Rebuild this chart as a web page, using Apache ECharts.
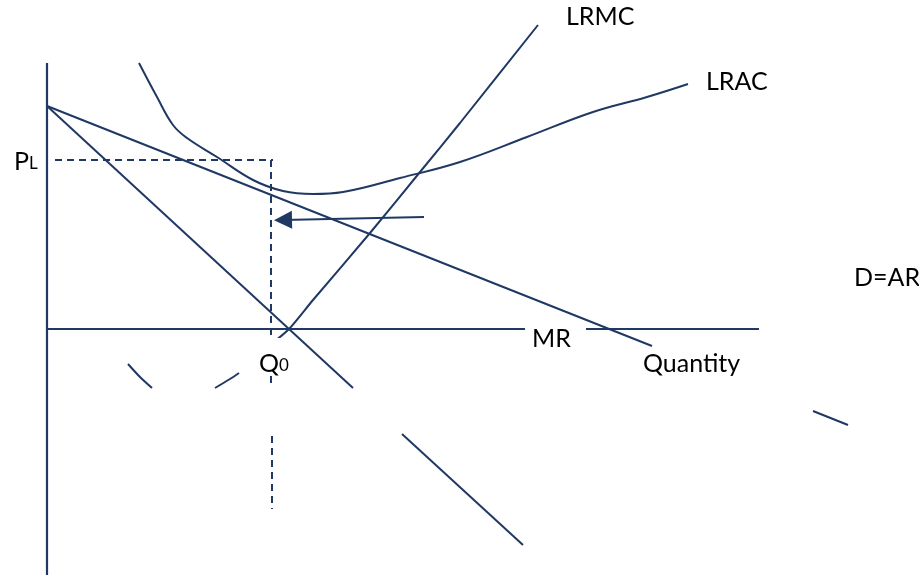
<!DOCTYPE html>
<html>
<head>
<meta charset="utf-8">
<script src="https://cdn.jsdelivr.net/npm/echarts@6/dist/echarts.min.js"></script>
<style>html,body{margin:0;padding:0;background:#fff;}#c{width:919px;height:575px;}</style>
</head>
<body>
<div id="c"></div>
<script>
// Diagram coordinates: q = quantity (right), p = price (up); origin at axis crossing
const priceAxis = [[0, 266], [0, -246]];
const quantityAxisA = [[0, 0], [478, 0]];
const quantityAxisB = [[539, 0], [712, 0]];
const demandAR = [[0, 223], [605, -17]];
const demandARFragment = [[766, -82], [801, -96]];
const marginalRevenue = [[0, 223], [306, -59]];
const marginalRevenueFragment = [[355, -105], [476, -216]];
const lrmc = [[223, -16], [242, 0], [266, 29], [323, 96], [373, 157], [413, 206], [491, 304]];
const lrac = [[92, 266], [110, 232], [126, 204], [140, 191], [170, 172], [206, 149], [236, 138], [266, 135], [296, 137], [353, 151], [413, 167], [480, 192], [546, 217], [600, 232], [641, 245]];
const hiddenCurveLeft = [[81, -35], [93, -48], [105, -59]];
const hiddenCurveRight = [[168, -59], [183, -50], [192, -44]];
const priceLDash = [[8, 169], [226, 169]];
const q0DashUpper = [[224, 169], [224, -59]];
const q0DashLower = [[225, -107], [225, -180]];
const shiftArrow = [[377, 112], [236, 109]];

const C = '#203864';
const FONT = 'Lato';
function seg(data, w, dashed, smooth) {
  return {
    type: 'line', data: data, symbol: 'none', silent: true, animation: false,
    smooth: smooth || false,
    lineStyle: { color: C, width: w, type: dashed ? [7, 5] : 'solid' }
  };
}
const chart = echarts.init(document.getElementById('c'));
chart.setOption({
  backgroundColor: '#fff',
  animation: false,
  grid: { left: 0, right: 0, top: 0, bottom: 0 },
  xAxis: { type: 'value', min: -47, max: 872, show: false },
  yAxis: { type: 'value', min: -246, max: 329, show: false },
  series: [
    seg(priceAxis, 2.2),
    seg(quantityAxisA, 2),
    seg(quantityAxisB, 2),
    seg(demandAR, 2),
    seg(demandARFragment, 2),
    seg(marginalRevenue, 2),
    seg(marginalRevenueFragment, 2),
    seg(lrmc, 2, false, 0.25),
    seg(lrac, 2, false, 0.4),
    seg(hiddenCurveLeft, 2, false, 0.3),
    seg(hiddenCurveRight, 2, false, 0.3),
    seg(priceLDash, 2, true),
    seg(q0DashUpper, 2, true),
    seg(q0DashLower, 2, true),
    {
      type: 'lines', coordinateSystem: 'cartesian2d', silent: true, animation: false,
      symbol: ['none', 'triangle'], symbolSize: 18,
      lineStyle: { color: C, width: 2, opacity: 1 },
      data: [{ coords: shiftArrow }]
    }
  ],
  graphic: [
    { type: 'text', left: 566, top: 4, style: { text: 'LRMC', font: '25px ' + FONT, fill: '#000' } },
    { type: 'text', left: 706, top: 69, style: { text: 'LRAC', font: '25px ' + FONT, fill: '#000' } },
    { type: 'text', left: 854, top: 265, style: { text: 'D=AR', font: '25px ' + FONT, fill: '#000' } },
    { type: 'text', left: 532, top: 326, style: { text: 'MR', font: '25px ' + FONT, fill: '#000' } },
    { type: 'text', left: 643, top: 351, style: { text: 'Quantity', font: '25px ' + FONT, fill: '#000' } },
    { type: 'text', left: 14, top: 149, style: {
        text: '{a|P}{b|L}', fill: '#000',
        rich: { a: { fontSize: 25, fontFamily: FONT, verticalAlign: 'bottom' }, b: { fontSize: 17, fontFamily: FONT, verticalAlign: 'bottom', padding: [0, 0, 2, 0] } }
      } },
    { type: 'rect', shape: { x: 258, y: 338, width: 30, height: 35 }, style: { fill: '#fff' }, z: 10 },
    { type: 'text', left: 259, top: 351, z: 11, style: {
        text: '{a|Q}{b|0}', fill: '#000',
        rich: { a: { fontSize: 25, fontFamily: FONT, verticalAlign: 'bottom' }, b: { fontSize: 17, fontFamily: FONT, verticalAlign: 'bottom', padding: [0, 0, 2, 0] } }
      } }
  ]
});
</script>
</body>
</html>
